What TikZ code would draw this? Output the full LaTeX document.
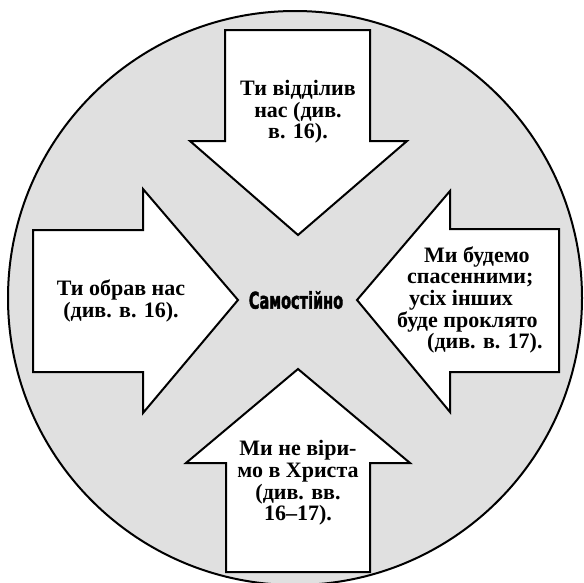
\documentclass[tikz,border=0pt]{standalone}
\usepackage{fontspec}
\setmainfont{Liberation Serif}
\newfontfamily\heavyfont{DejaVu Sans Bold}[FakeBold=2.5]
\definecolor{discgrey}{HTML}{E0E0E0}
\begin{document}
\begin{tikzpicture}[x=1pt,y=-1pt,
  arrowshape/.style={fill=white,draw=black,line width=2pt,line join=miter},
  every node/.style={font=\bfseries\fontsize{22}{21.7}\selectfont,align=center,inner sep=0pt}]
  \useasboundingbox (0,0) rectangle (584,582);

  % Disco gris
  \draw[fill=discgrey,line width=2pt] (295,298) circle (287);

  % Flechas hacia el centro (arriba, izquierda, derecha, abajo)
  \draw[arrowshape] (225,30) -- (370,30) -- (370,141) -- (407,141) -- (298,235)
    -- (190,141) -- (225,141) -- cycle;
  \draw[arrowshape] (33,230) -- (143,230) -- (143,189) -- (238,300) -- (143,413)
    -- (143,372) -- (33,372) -- cycle;
  \draw[arrowshape] (559,229) -- (450,229) -- (450,191) -- (357,300) -- (450,412)
    -- (450,372) -- (559,372) -- cycle;
  \draw[arrowshape] (226,572) -- (370,572) -- (370,463) -- (410,463) -- (298,369)
    -- (186,463) -- (226,463) -- cycle;

  % Textos de las flechas
  \node (separated) at (298,112) {Ти відділив\\нас (див.\\в. 16).};
  \node (chose) at (121,301) {Ти обрав нас\\(див. в. 16).};
  \node[align=left,anchor=west] (saved) at (397,300)
    {\hspace*{27pt}Ми будемо\\\hspace*{10pt}спасенними;\\\hspace*{12pt}усіх інших\\буде проклято\\\hspace*{30pt}(див. в. 17).};
  \node (unbelief) at (298,483) {Ми не віри-\\мо в Христа\\(див. вв.\\16–17).};

  % Centro
  \node (self) at (296,300) {\heavyfont\fontsize{23}{23}\selectfont\scalebox{0.63}[1]{Самостійно}};
\end{tikzpicture}
\end{document}
